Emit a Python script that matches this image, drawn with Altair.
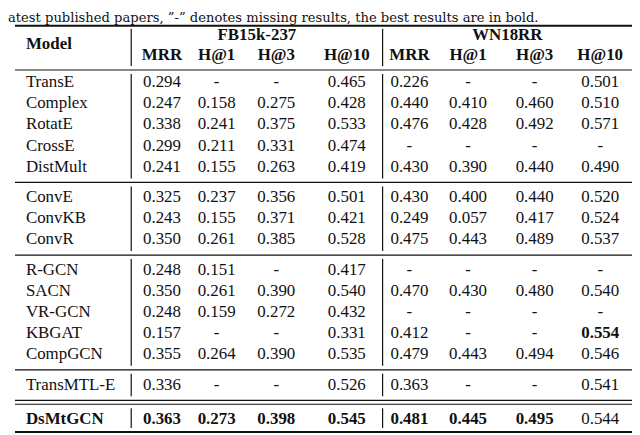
import altair as alt
import pandas as pd

caption = "atest published papers, \u201d-\u201d denotes missing results, the best results are in bold."
header_model = "Model"
datasets = ["FB15k-237", "WN18RR"]
metrics = ["MRR", "H@1", "H@3", "H@10"]

models = ["TransE", "Complex", "RotatE", "CrossE", "DistMult",
          "ConvE", "ConvKB", "ConvR",
          "R-GCN", "SACN", "VR-GCN", "KBGAT", "CompGCN",
          "TransMTL-E", "DsMtGCN"]
group_of = [0, 0, 0, 0, 0, 1, 1, 1, 2, 2, 2, 2, 2, 3, 4]

fb_mrr = ["0.294", "0.247", "0.338", "0.299", "0.241", "0.325", "0.243", "0.350",
          "0.248", "0.350", "0.248", "0.157", "0.355", "0.336", "0.363"]
fb_h1 = ["-", "0.158", "0.241", "0.211", "0.155", "0.237", "0.155", "0.261",
         "0.151", "0.261", "0.159", "-", "0.264", "-", "0.273"]
fb_h3 = ["-", "0.275", "0.375", "0.331", "0.263", "0.356", "0.371", "0.385",
         "-", "0.390", "0.272", "-", "0.390", "-", "0.398"]
fb_h10 = ["0.465", "0.428", "0.533", "0.474", "0.419", "0.501", "0.421", "0.528",
          "0.417", "0.540", "0.432", "0.331", "0.535", "0.526", "0.545"]
wn_mrr = ["0.226", "0.440", "0.476", "-", "0.430", "0.430", "0.249", "0.475",
          "-", "0.470", "-", "0.412", "0.479", "0.363", "0.481"]
wn_h1 = ["-", "0.410", "0.428", "-", "0.390", "0.400", "0.057", "0.443",
         "-", "0.430", "-", "-", "0.443", "-", "0.445"]
wn_h3 = ["-", "0.460", "0.492", "-", "0.440", "0.440", "0.417", "0.489",
         "-", "0.480", "-", "-", "0.494", "-", "0.495"]
wn_h10 = ["0.501", "0.510", "0.571", "-", "0.490", "0.520", "0.524", "0.537",
          "-", "0.540", "-", "0.554", "0.546", "0.541", "0.544"]

columns = [fb_mrr, fb_h1, fb_h3, fb_h10, wn_mrr, wn_h1, wn_h3, wn_h10]
# bold cells: (row, column index)
bold_cells = [(14, 0), (14, 1), (14, 2), (14, 3), (14, 4), (14, 5), (14, 6), (11, 7)]

# ---------------- layout (page pixel coordinates) ----------------
FONT = "Liberation Serif"
FS = 17
col_x = [163, 218, 278, 349, 412, 471, 538, 604]
model_x = 26
vline_x = [132, 385]
rule_x0, rule_x1 = 15, 636
P, G, DBL, Y_FIRST = 21.2, 9.5, 4, 81.5
row_y = [Y_FIRST + i * P + g * G + (DBL if g == 4 else 0) for i, g in enumerate(group_of)]

# cells
cells = []
for i, m in enumerate(models):
    cells.append({"x": model_x, "y": row_y[i], "label": m, "bold": i == 14, "align": "left"})
    for j, col in enumerate(columns):
        cells.append({"x": col_x[j], "y": row_y[i], "label": col[i],
                      "bold": (i, j) in bold_cells, "align": "center"})
# headers
cells.append({"x": model_x, "y": 43, "label": header_model, "bold": True, "align": "left"})
cells.append({"x": (vline_x[0] + vline_x[1]) / 2, "y": 33.5, "label": datasets[0], "bold": True, "align": "center"})
cells.append({"x": (vline_x[1] + rule_x1) / 2, "y": 33.5, "label": datasets[1], "bold": True, "align": "center"})
for j in range(8):
    cells.append({"x": col_x[j], "y": 53.5, "label": metrics[j % 4], "bold": True, "align": "center"})
cells_df = pd.DataFrame(cells)

# horizontal rules
top_rule = 24.5
header_rule = 69
hrules = [{"y": top_rule, "w": 2.0}, {"y": header_rule, "w": 1.2}]
group_bounds = []  # (top, bottom) for vertical segments
prev_rule = header_rule
ngroups = max(group_of) + 1
for g in range(ngroups):
    idx = [i for i, gg in enumerate(group_of) if gg == g]
    if g < ngroups - 1:
        nxt = [i for i, gg in enumerate(group_of) if gg == g + 1][0]
        mid = (row_y[idx[-1]] + row_y[nxt]) / 2 + 0.5
        if g == ngroups - 2:
            hrules.append({"y": mid - 2, "w": 1.2})
            hrules.append({"y": mid + 2, "w": 1.2})
            group_bounds.append((prev_rule + 4, mid - 2 - 4))
            prev_rule = mid + 2
        else:
            hrules.append({"y": mid, "w": 1.2})
            group_bounds.append((prev_rule + 4, mid - 4))
            prev_rule = mid
    else:
        bottom = row_y[idx[-1]] + 13
        hrules.append({"y": bottom, "w": 2.0})
        group_bounds.append((prev_rule + 4, bottom - 4))
hr_df = pd.DataFrame(hrules)
hr_df["x0"] = rule_x0
hr_df["x1"] = rule_x1

vsegs = []
for vx in vline_x:
    vsegs.append({"x": vx, "y0": top_rule + 3, "y1": header_rule - 4})
    for a, b in group_bounds:
        vsegs.append({"x": vx, "y0": a, "y1": b})
vs_df = pd.DataFrame(vsegs)

cap_df = pd.DataFrame([{"x": 8, "y": 20.4, "label": caption}])

# ---------------- chart ----------------
W, H = 628, 427
xs = alt.Scale(domain=[8, 8 + W], nice=False, zero=False)
ys = alt.Scale(domain=[8, 8 + H], nice=False, zero=False, reverse=True)
X = lambda f: alt.X(f, scale=xs, axis=None)
Y = lambda f: alt.Y(f, scale=ys, axis=None)

base_cells = alt.Chart(cells_df)


def text_layer(bold, align):
    return base_cells.transform_filter(
        ("datum.bold" if bold else "!datum.bold") + f" && datum.align == '{align}'"
    ).mark_text(font=FONT, fontSize=FS, fontWeight="bold" if bold else "normal",
                align=align, baseline="middle", color="#111111").encode(
        x=X("x:Q"), y=Y("y:Q"), text="label:N")


layers = [text_layer(b, a) for b in (False, True) for a in ("left", "center")]

caption_layer = alt.Chart(cap_df).mark_text(
    font="DejaVu Serif", fontSize=13.2, align="left", baseline="alphabetic", color="#111111"
).encode(x=X("x:Q"), y=Y("y:Q"), text="label:N")

hr_layer = alt.Chart(hr_df).mark_rule(color="#111111").encode(
    x=X("x0:Q"), x2="x1:Q", y=Y("y:Q"),
    strokeWidth=alt.StrokeWidth("w:Q", scale=None))

vr_layer = alt.Chart(vs_df).mark_rule(color="#111111", strokeWidth=1.2).encode(
    x=X("x:Q"), y=Y("y0:Q"), y2="y1:Q")

chart = alt.layer(hr_layer, vr_layer, caption_layer, *layers).properties(
    width=W, height=H, autosize="none", padding=0
).configure_view(strokeWidth=0)

chart.save("out.html", embed_options={"renderer": "svg", "actions": False})
